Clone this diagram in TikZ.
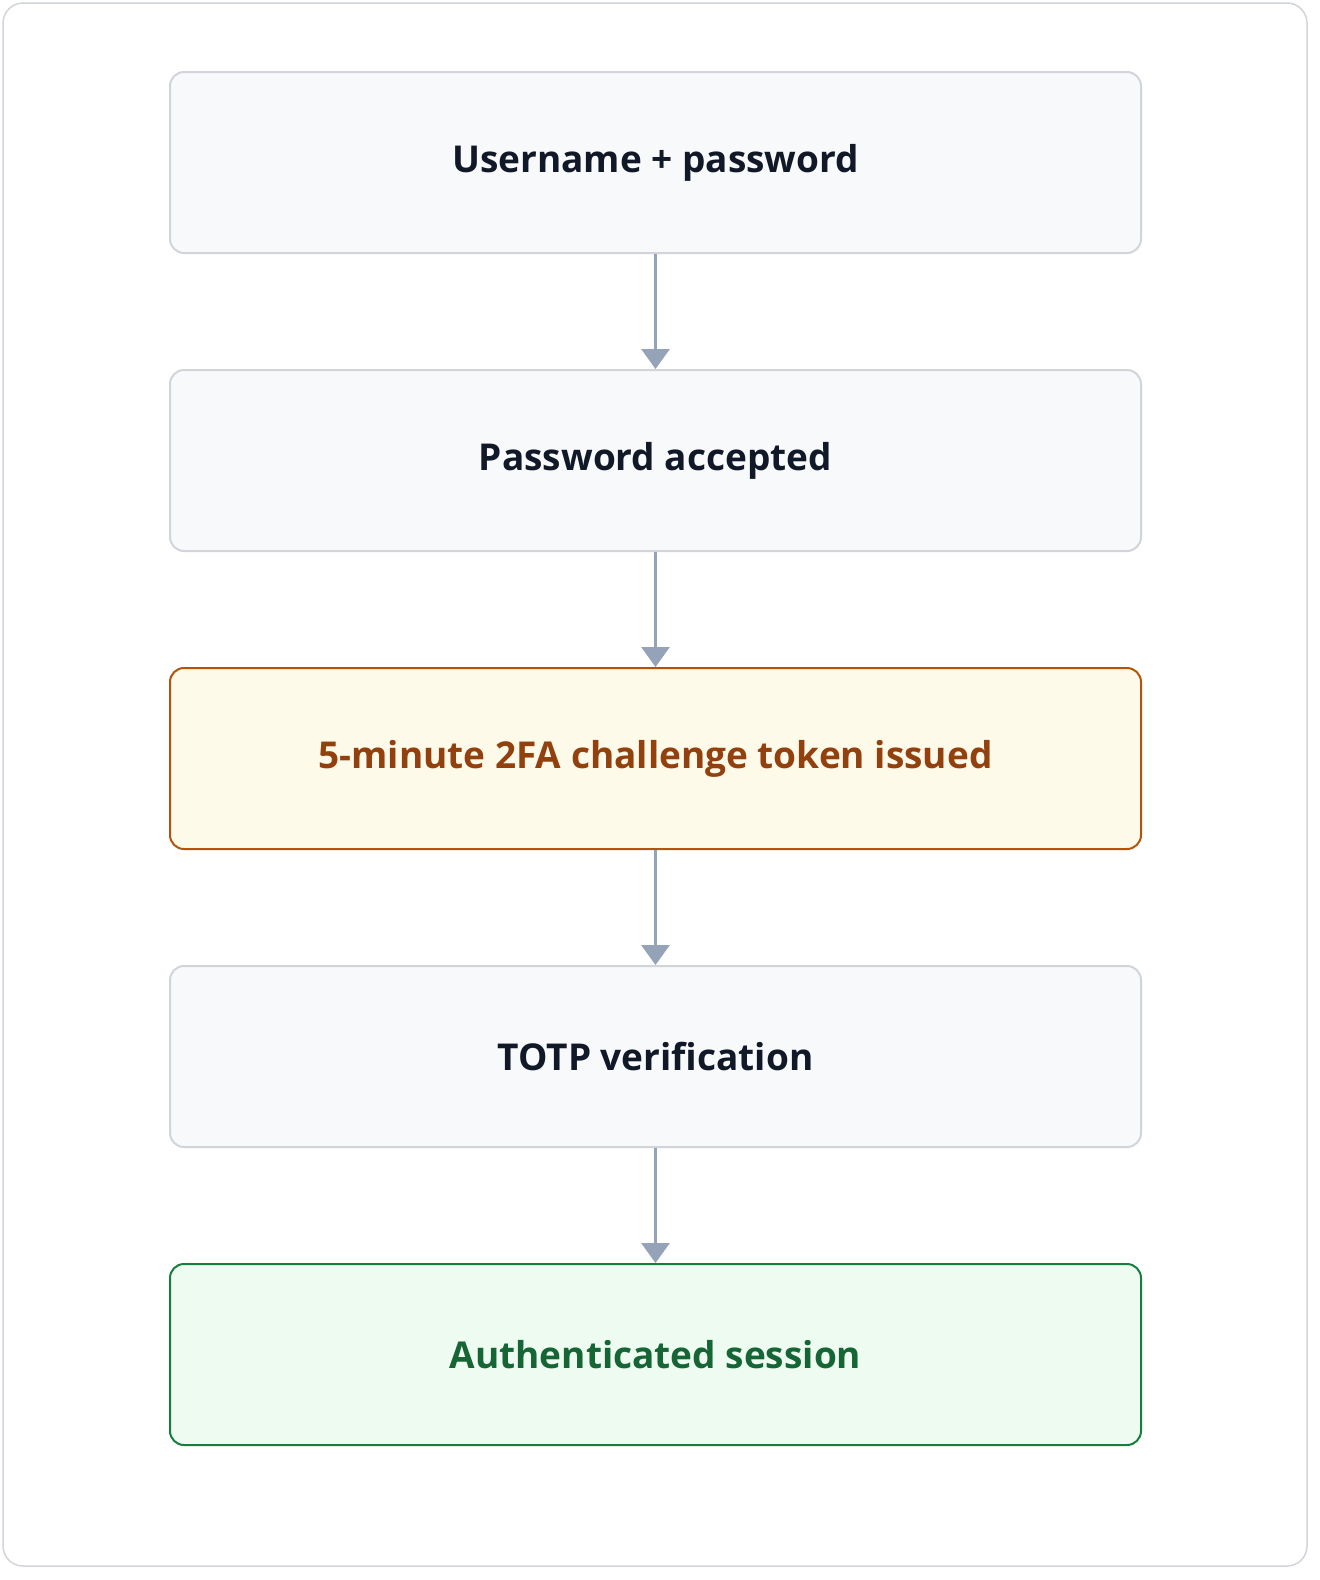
\documentclass[tikz,border=0pt]{standalone}
\usepackage{fontspec}
\setmainfont{Open Sans}
\usetikzlibrary{arrows.meta}
\definecolor{gfill}{HTML}{F8F9FB}\definecolor{gline}{HTML}{D1D5DB}\definecolor{gtext}{HTML}{111827}
\definecolor{afill}{HTML}{FEFAE9}\definecolor{aline}{HTML}{B45309}\definecolor{atext}{HTML}{92400E}
\definecolor{nfill}{HTML}{EEFBF1}\definecolor{nline}{HTML}{15803D}\definecolor{ntext}{HTML}{166534}
\definecolor{arr}{HTML}{94A3B8}
\begin{document}
\begin{tikzpicture}[x=1pt,y=-1pt,
 box/.style={draw=gline,fill=gfill,text=gtext,line width=2pt,rounded corners=14pt,minimum width=971pt,minimum height=181pt,font=\fontsize{37}{42}\selectfont\bfseries,inner sep=0pt},
 warn/.style={box,draw=aline,fill=afill,text=atext},
 ok/.style={box,draw=nline,fill=nfill,text=ntext},
 link/.style={draw=arr,line width=3pt,-{Triangle[length=20pt,width=28pt]}}]
\useasboundingbox (0,0) rectangle (1320,1580);
\draw[gline,line width=1.5pt,fill=white,rounded corners=20pt] (3,3) rectangle (1307,1566);
\node[box] (a) at (655.5,162.5) {Username + password};
\node[box] (b) at (655.5,460.5) {Password accepted};
\node[warn] (c) at (655.5,758.5) {5-minute 2FA challenge token issued};
\node[box] (d) at (655.5,1056.5) {TOTP verification};
\node[ok] (e) at (655.5,1354.5) {Authenticated session};
\draw[link] (a) -- (b);
\draw[link] (b) -- (c);
\draw[link] (c) -- (d);
\draw[link] (d) -- (e);
\end{tikzpicture}
\end{document}
